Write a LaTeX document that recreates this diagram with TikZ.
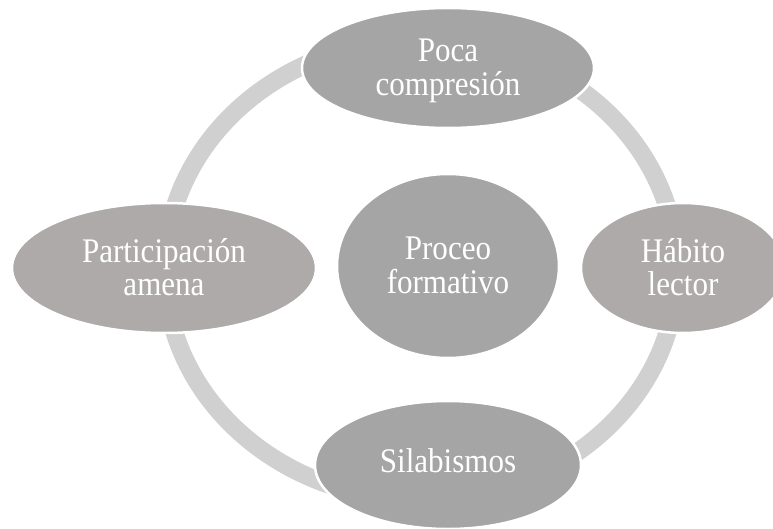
\documentclass[tikz,border=0pt]{standalone}
\usepackage{fontspec}
\setmainfont{Liberation Serif}
\usetikzlibrary{shapes.geometric}
\definecolor{ringgray}{RGB}{208,208,208}
\definecolor{nodegray}{RGB}{165,165,165}
\definecolor{warmgray}{RGB}{174,170,170}
\newcommand\narrowtext[1]{\scalebox{0.9}[1]{\begin{tabular}{@{}c@{}}#1\end{tabular}}}
\newcommand\twolines[1]{\raisebox{-4pt}[\height][\depth]{\narrowtext{#1}}}
\begin{document}
\begin{tikzpicture}[x=1pt,y=-1pt,
  bubble/.style={ellipse, draw=white, line width=2.5pt, fill=nodegray, text=white,
    font=\fontsize{34.5}{32.5}\selectfont, align=center, inner sep=0pt},
  warm/.style={fill=warmgray},
  ringline/.style={draw=ringgray, line width=18pt}]
\useasboundingbox (0,0) rectangle (773,529);
\clip (0,0) rectangle (773,529);
\coordinate (ringc) at (421,270);
\draw[ringline] (ringc) ellipse [x radius=256, y radius=230];
\node[bubble, minimum width=292pt, minimum height=120pt] (top) at (448,68) {\twolines{Poca\\compresión}};
\node[bubble, warm, minimum width=304pt, minimum height=130pt] (left) at (164,268) {\twolines{Participación\\amena}};
\node[bubble, minimum width=222pt, minimum height=184pt] (mid) at (448,266) {\twolines{Proceo\\formativo}};
\node[bubble, warm, minimum width=204pt, minimum height=130pt] (right) at (683,268) {\twolines{Hábito\\lector}};
\node[bubble, minimum width=266pt, minimum height=128pt] (bottom) at (448,465) {\narrowtext{Silabismos}};
\end{tikzpicture}
\end{document}
